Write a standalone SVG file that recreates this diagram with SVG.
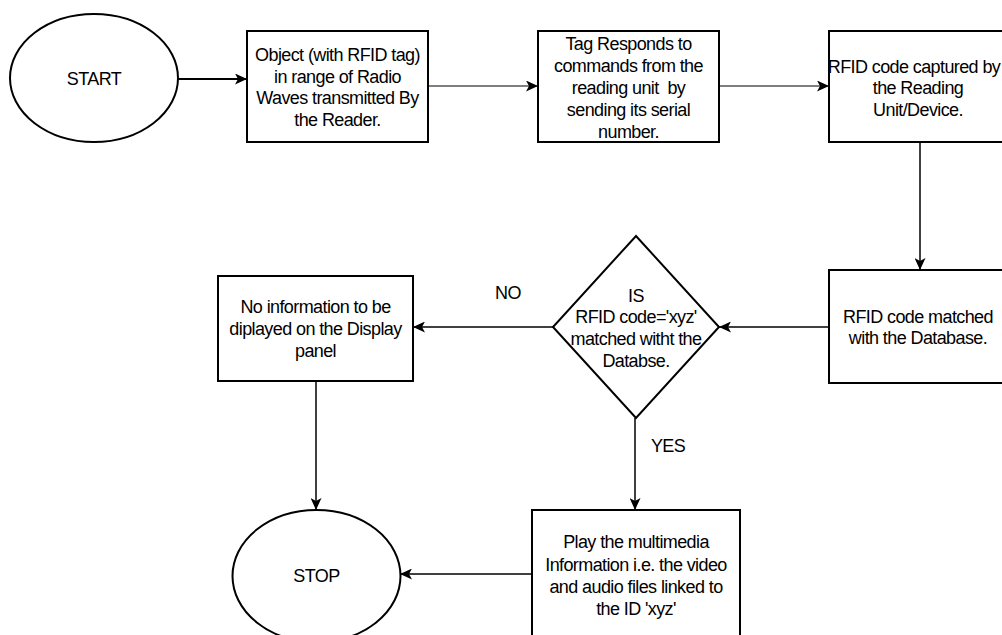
<svg xmlns="http://www.w3.org/2000/svg" width="1002" height="635" viewBox="0 0 1002 635">
<style>
.shape{fill:#ffffff;stroke:#000000;stroke-width:2}
.conn{fill:none;stroke:#000000;stroke-width:1.5}
.thin{stroke-width:1.2}
.thick{stroke-width:2}
text{font-family:"Liberation Sans",Arial,sans-serif;font-size:18px;fill:#000000;text-anchor:middle;letter-spacing:-0.6px;white-space:pre}
</style>
<defs>
<marker id="arr" markerUnits="userSpaceOnUse" markerWidth="13" markerHeight="11" refX="12" refY="5.5" orient="auto">
<path d="M0,0 L12,5.5 L0,11 L3,5.5 Z" fill="#000000"/>
</marker>
</defs>
<rect width="1002" height="635" fill="#ffffff"/>
<g id="connectors">
<line class="conn thick" x1="178" y1="79" x2="247" y2="79" marker-end="url(#arr)"/>
<line class="conn thin" x1="428" y1="86" x2="538" y2="86" marker-end="url(#arr)"/>
<line class="conn thin" x1="719" y1="86" x2="829" y2="86" marker-end="url(#arr)"/>
<line class="conn" x1="920" y1="142" x2="920" y2="270" marker-end="url(#arr)"/>
<line class="conn" x1="829" y1="327" x2="719" y2="327" marker-end="url(#arr)"/>
<line class="conn" x1="553" y1="327" x2="413" y2="327" marker-end="url(#arr)"/>
<line class="conn" x1="316" y1="381" x2="316" y2="510" marker-end="url(#arr)"/>
<line class="conn" x1="635" y1="418" x2="635" y2="510" marker-end="url(#arr)"/>
<line class="conn" x1="532" y1="574" x2="400" y2="574" marker-end="url(#arr)"/>
<text x="508" y="299">NO</text>
<text x="668" y="452">YES</text>
</g>
<g id="start">
<ellipse class="shape" cx="94" cy="78" rx="84" ry="64"/>
<text x="94" y="85">START</text>
</g>
<g id="object-in-range">
<rect class="shape" x="247" y="31" width="181" height="111"/>
<text x="337.5" y="61">Object (with RFID tag)</text>
<text x="337.5" y="83">in range of Radio</text>
<text x="337.5" y="104">Waves transmitted By</text>
<text x="337.5" y="126">the Reader.</text>
</g>
<g id="tag-responds">
<rect class="shape" x="538" y="31" width="181" height="111"/>
<text x="628.5" y="50">Tag Responds to</text>
<text x="628.5" y="72">commands from the</text>
<text x="628.5" y="94">reading unit  by</text>
<text x="628.5" y="116">sending its serial</text>
<text x="628.5" y="138">number.</text>
</g>
<g id="code-captured">
<rect class="shape" x="829" y="31" width="181" height="111"/>
<text x="914" y="73" letter-spacing="-0.8">RFID code captured by</text>
<text x="918" y="94">the Reading</text>
<text x="918" y="116">Unit/Device.</text>
</g>
<g id="code-matched">
<rect class="shape" x="829" y="270" width="181" height="113"/>
<text x="918" y="323">RFID code matched</text>
<text x="918" y="344">with the Database.</text>
</g>
<g id="decision">
<polygon class="shape" points="636,236 719,327 636,418 553,327"/>
<text x="636" y="302">IS</text>
<text x="636" y="323">RFID code='xyz'</text>
<text x="636" y="345">matched witht the</text>
<text x="636" y="367">Databse.</text>
</g>
<g id="no-information">
<rect class="shape" x="218" y="276" width="195" height="105"/>
<text x="315.5" y="313">No information to be</text>
<text x="315.5" y="335">diplayed on the Display</text>
<text x="315.5" y="357">panel</text>
</g>
<g id="play-multimedia">
<rect class="shape" x="532" y="510" width="208" height="140"/>
<text x="636" y="548">Play the multimedia</text>
<text x="636" y="571">Information i.e. the video</text>
<text x="636" y="593">and audio files linked to</text>
<text x="636" y="615">the ID 'xyz'</text>
</g>
<g id="stop">
<ellipse class="shape" cx="316.5" cy="576" rx="84" ry="66"/>
<text x="316.5" y="582">STOP</text>
</g>
</svg>
